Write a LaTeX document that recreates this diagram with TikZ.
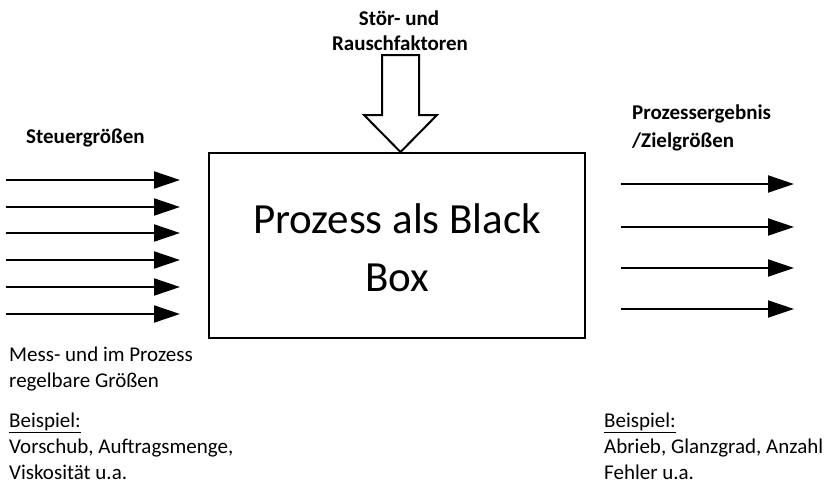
\documentclass[tikz,border=0pt]{standalone}
\usepackage{fontspec}
\setmainfont{Carlito}
\usetikzlibrary{arrows.meta}

\begin{document}
\begin{tikzpicture}[x=1pt,y=-1pt,
  txt/.style={anchor=base west, inner sep=0, text depth=0pt, font=\fontsize{21}{26.7}\selectfont},
  fett/.style={inner sep=0, font=\fontsize{21}{26}\selectfont\bfseries},
  pfeil/.style={line width=2pt, ->, >={Triangle[length=26pt,width=17pt]}}]
\useasboundingbox (0,0) rectangle (829,485);

% Black Box
\node[draw, line width=2pt, minimum width=376pt, minimum height=185pt, inner sep=0] (box) at (397,245.5) {};
\node[anchor=base, inner sep=0, align=center, font=\fontsize{43}{58}\selectfont] (boxtext) at (397,291.5) {Prozess als Black\\Box};

% Stoer- und Rauschfaktoren
\node[fett, anchor=base] (stoer) at (399,25) {Stör- und};
\node[fett, anchor=base] (rausch) at (400,50) {Rauschfaktoren};
\coordinate (spitze) at (400.5,152);
\filldraw[fill=white, line width=2pt, line join=miter]
  (382,55) -- (419,55) -- (419,115) -- (437,115) -- (spitze) -- (364,115) -- (382,115) -- cycle;

% Steuergroessen
\node[fett, anchor=base west] (steuer) at (26,143) {Steuergrößen};
\foreach \y [count=\i] in {180,207,233,260,287,314} {
  \coordinate (ein\i) at (6,\y);
  \coordinate (einende\i) at (180,\y);
  \draw[pfeil] (ein\i) -- (einende\i);
}

% Prozessergebnis
\node[fett, anchor=base west] (ergebnis) at (632,119) {Prozessergebnis};
\node[fett, anchor=base west] (ziel) at (632,147) {/Zielgrößen};
\foreach \y [count=\i] in {184,227,268,309} {
  \coordinate (aus\i) at (621,\y);
  \coordinate (ausende\i) at (794,\y);
  \draw[pfeil] (aus\i) -- (ausende\i);
}

% Texte unten links
\node[txt] (mess) at (9,361) {Mess- und im Prozess};
\node[txt] (regel) at (9,387.5) {regelbare Größen};
\node[txt] (bsplinks) at (9,427) {\underline{Beispiel:}};
\node[txt] (vorschub) at (9,453.5) {Vorschub, Auftragsmenge,};
\node[txt] (visko) at (9,479.5) {Viskosität u.a.};

% Texte unten rechts
\node[txt] (bsprechts) at (604,427) {\underline{Beispiel:}};
\node[txt] (abrieb) at (604,453.5) {Abrieb, Glanzgrad, Anzahl};
\node[txt] (fehler) at (604,479.5) {Fehler u.a.};
\end{tikzpicture}
\end{document}
